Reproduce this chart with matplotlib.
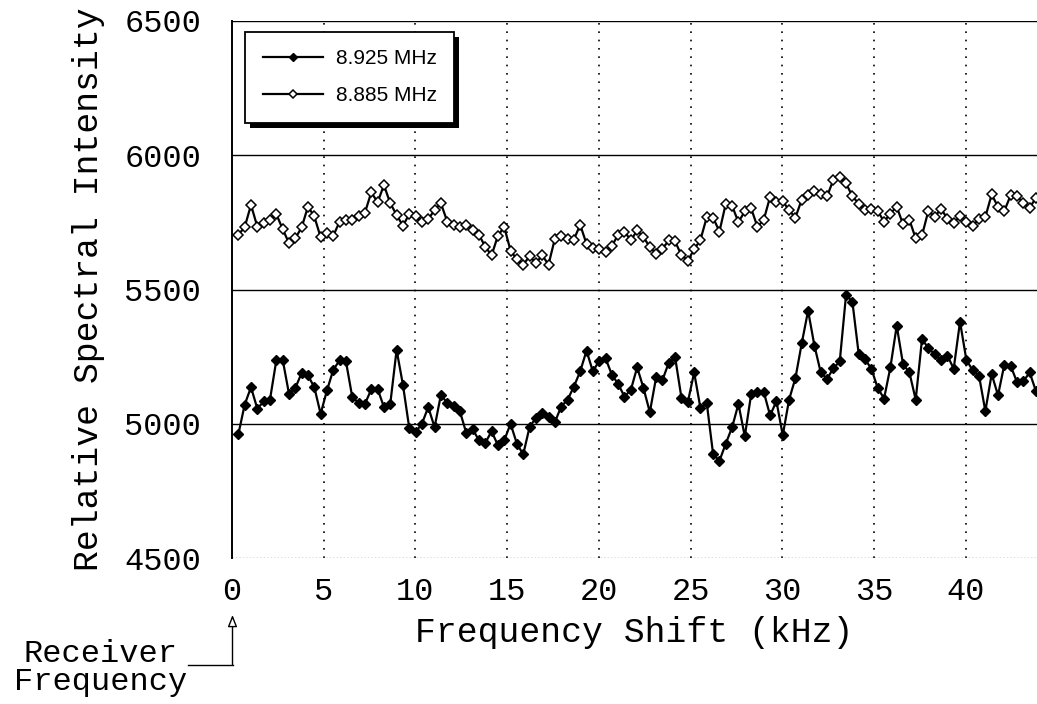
import matplotlib
matplotlib.use("Agg")
import matplotlib.pyplot as plt
from matplotlib.patches import Rectangle
import numpy as np

# ---- data ----
step_khz = 0.345
series_885 = [5704, 5732, 5815, 5734, 5749, 5759, 5781, 5725, 5673, 5691,
              5731, 5809, 5772, 5695, 5712, 5700, 5753, 5759, 5759, 5772,
              5786, 5862, 5825, 5889, 5821, 5778, 5737, 5781, 5772, 5753,
              5762, 5796, 5821, 5753, 5741, 5732, 5741, 5722, 5704, 5660,
              5627, 5700, 5733, 5645, 5612, 5592, 5624, 5598, 5627, 5593,
              5689, 5701, 5689, 5686, 5741, 5670, 5654, 5652, 5639, 5662,
              5704, 5716, 5683, 5720, 5695, 5658, 5633, 5652, 5683, 5679,
              5627, 5608, 5649, 5685, 5770, 5767, 5716, 5820, 5811, 5751,
              5791, 5803, 5733, 5760, 5845, 5826, 5829, 5795, 5768, 5835,
              5851, 5867, 5857, 5847, 5909, 5919, 5895, 5847, 5820, 5795,
              5801, 5793, 5752, 5783, 5808, 5743, 5760, 5690, 5702, 5793,
              5770, 5801, 5764, 5748, 5773, 5752, 5736, 5764, 5770, 5854,
              5808, 5793, 5851, 5847, 5823, 5805, 5841]
series_925 = [4960, 5071, 5136, 5056, 5083, 5090, 5236, 5239, 5112, 5133,
              5189, 5180, 5136, 5037, 5124, 5201, 5236, 5232, 5099, 5078,
              5074, 5128, 5130, 5062, 5074, 5275, 5145, 4984, 4969, 5000,
              5062, 4987, 5108, 5077, 5066, 5046, 4966, 4981, 4938, 4928,
              4972, 4920, 4938, 5000, 4926, 4886, 4987, 5022, 5039, 5025,
              5006, 5064, 5089, 5138, 5195, 5272, 5195, 5234, 5244, 5183,
              5148, 5101, 5126, 5210, 5133, 5043, 5173, 5163, 5228, 5247,
              5096, 5080, 5191, 5058, 5076, 4886, 4862, 4926, 4987, 5074,
              4953, 5109, 5118, 5118, 5031, 5084, 4957, 5090, 5170, 5300,
              5421, 5291, 5191, 5167, 5207, 5232, 5481, 5454, 5259, 5241,
              5204, 5133, 5094, 5210, 5365, 5222, 5191, 5090, 5316, 5281,
              5259, 5236, 5254, 5205, 5380, 5238, 5199, 5179, 5047, 5185,
              5106, 5220, 5216, 5155, 5158, 5191, 5121]
labels = ["8.925 MHz", "8.885 MHz"]
xticks = [0, 5, 10, 15, 20, 25, 30, 35, 40]
yticks = [4500, 5000, 5500, 6000, 6500]

freq = step_khz * np.arange(1, len(series_885) + 1)

mono = ["Liberation Mono", "DejaVu Sans Mono"]

fig = plt.figure(figsize=(10.37, 7.04), dpi=100)
ax = fig.add_axes([232 / 1037, 1 - 558 / 704, 1 - 232 / 1037, (558 - 21) / 704])

ax.plot(freq, series_925, color="black", lw=1.6, marker="D", ms=5,
        mfc="black", mec="black", label=labels[0], zorder=3)
ax.plot(freq, series_885, color="black", lw=1.6, marker="D", ms=5,
        mfc="white", mec="black", mew=1.1, label=labels[1], zorder=3)

ax.set_xlim(0, 43.87)
ax.set_ylim(4500, 6500)
ax.set_xticks(xticks)
ax.set_yticks(yticks)

for y in yticks[1:]:
    ax.axhline(y, color="black", lw=1.0, zorder=1)
for x in xticks[1:]:
    ax.axvline(x, color="black", lw=1.2, ls=(0, (1, 4)), zorder=1)
ax.axhline(4500, color="#555555", lw=1.0, ls=(0, (1, 1.5)), zorder=1)

for s in ["top", "right", "bottom"]:
    ax.spines[s].set_visible(False)
ax.spines["left"].set_linewidth(1.4)

ax.tick_params(length=0)
ax.tick_params(axis="x", pad=14)
ax.tick_params(axis="y", pad=22)
for t in ax.get_xticklabels() + ax.get_yticklabels():
    t.set_family(mono)
    t.set_fontsize(23)

ax.set_xlabel("Frequency Shift (kHz)", family=mono, fontsize=25, labelpad=6)
ax.set_ylabel("Relative Spectral Intensity", family=mono, fontsize=25, labelpad=14)

leg = ax.legend(loc="upper left", bbox_to_anchor=(0.016, 0.98), borderaxespad=0,
                numpoints=1,
                prop={"family": ["Liberation Sans", "DejaVu Sans"], "size": 15},
                handlelength=2.9, markerscale=0.75, fancybox=False, shadow=False,
                edgecolor="black", framealpha=1, borderpad=0.85,
                labelspacing=0.85, handletextpad=0.6)
leg.get_frame().set_linewidth(1.3)
leg.set_zorder(6)

# heavy drop shadow behind the legend box
fig.canvas.draw()
bb = leg.get_frame().get_window_extent()
shadow = Rectangle((bb.x0 + 5, bb.y0 - 5), bb.width, bb.height, transform=None,
                   facecolor="black", edgecolor="none", zorder=5.5, clip_on=False)
ax.add_patch(shadow)

# Receiver Frequency annotation
fig.text(101 / 1037, 1 - 668 / 704, "Receiver\nFrequency", family=mono, fontsize=23,
         ha="center", va="center", multialignment="center", linespacing=0.95)
fig.add_artist(plt.Line2D([188 / 1037, 232.5 / 1037], [1 - 665 / 704, 1 - 665 / 704],
                          color="black", lw=1.0, transform=fig.transFigure))
ax.annotate("", xy=(232.5 / 1037, 1 - 615 / 704), xycoords="figure fraction",
            xytext=(232.5 / 1037, 1 - 665 / 704), textcoords="figure fraction",
            arrowprops=dict(arrowstyle="-|>,head_length=0.7,head_width=0.28",
                            fc="white", ec="black", lw=1.0, shrinkA=0, shrinkB=0),
            annotation_clip=False)

fig.savefig("out.png", dpi=100)
